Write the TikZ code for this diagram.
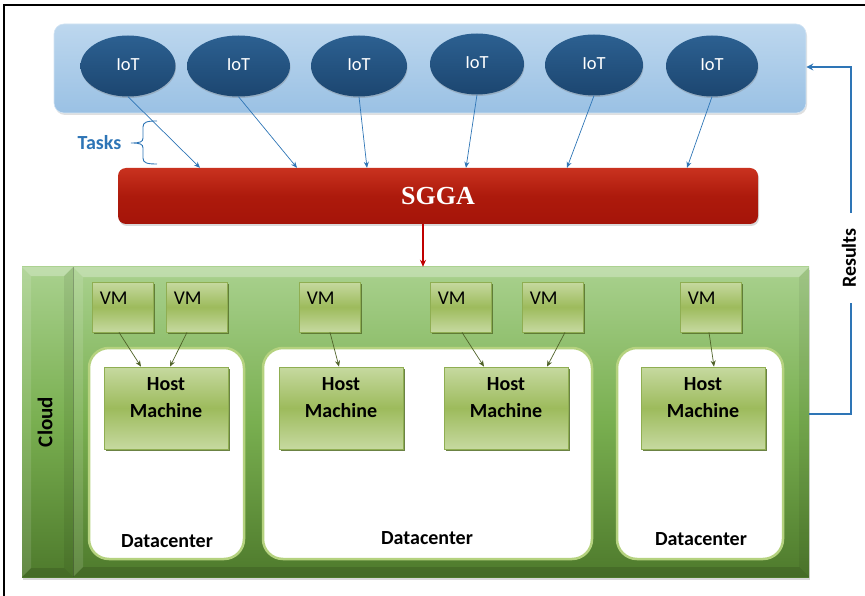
\documentclass[tikz,border=0pt]{standalone}
\usepackage{fontspec}
\setmainfont{Carlito}
\newfontfamily\serifbold{Liberation Serif}
\usetikzlibrary{shapes.geometric,shadows,arrows.meta,calc}
\definecolor{bandtop}{HTML}{BDD7EE}
\definecolor{bandbot}{HTML}{9AC1E4}
\definecolor{iottop}{HTML}{2C6091}
\definecolor{iotbot}{HTML}{1C4670}
\definecolor{sggatop}{HTML}{C9321F}
\definecolor{sggamid}{HTML}{AD1A0C}
\definecolor{sggabot}{HTML}{A51409}
\definecolor{taskblue}{HTML}{2E75B6}
\definecolor{cloudtop}{HTML}{A9D18E}
\definecolor{cloudmid}{HTML}{79AF50}
\definecolor{cloudbot}{HTML}{4E7A2C}
\definecolor{vmlight}{HTML}{C6D9A0}
\definecolor{vmmid}{HTML}{9DBB5C}
\definecolor{vmedge}{HTML}{8FAE52}
\definecolor{vmshadow}{HTML}{5B7530}
\definecolor{vmarrow}{HTML}{4F6228}
\definecolor{dcedge}{HTML}{B5D27F}
\definecolor{redarrow}{HTML}{C00000}
\tikzset{
  band/.style={rounded corners=10pt, minimum width=752pt, minimum height=89pt,
    top color=bandtop, bottom color=bandbot, draw=bandtop!70!white, line width=0.6pt,
    drop shadow={shadow xshift=1pt, shadow yshift=-2pt, opacity=0.25}},
  iot/.style={ellipse, minimum height=61pt, top color=iottop, bottom color=iotbot,
    text=white, font=\fontsize{18.5}{20}\selectfont, inner sep=0pt,
    drop shadow={shadow xshift=0.5pt, shadow yshift=-1.5pt, opacity=0.35}},
  sgga/.style={rounded corners=8pt, minimum width=640pt, minimum height=56pt,
    top color=sggatop, bottom color=sggabot, middle color=sggamid, text=white,
    font=\serifbold\bfseries\fontsize{26}{28}\selectfont,
    drop shadow={shadow xshift=1pt, shadow yshift=-2pt, opacity=0.3}},
  task/.style={draw=taskblue, line width=0.7pt, -{Stealth[length=6pt,width=5pt]}},
  vmarr/.style={draw=vmarrow, line width=0.7pt, -{Stealth[length=6pt,width=5pt]}},
  vmbox/.style={minimum width=61pt, minimum height=50pt, top color=vmlight,
    bottom color=vmlight, middle color=vmmid, draw=vmedge, line width=0.8pt,
    drop shadow={shadow xshift=2pt, shadow yshift=-2pt, opacity=0.9, fill=vmshadow}},
  hmbox/.style={vmbox, minimum width=124pt, minimum height=82pt},
  dcbox/.style={rounded corners=20pt, fill=white, draw=dcedge, line width=2.5pt, minimum height=211pt},
  lab/.style={font=\fontsize{19.5}{20}\selectfont, inner sep=0pt},
  blab/.style={font=\bfseries\fontsize{20}{27}\selectfont, inner sep=0pt, align=center},
}
\begin{document}
\begin{tikzpicture}[x=1pt,y=-1pt]
\useasboundingbox (0,0) rectangle (865,596);
\draw[line width=1.3pt] (4,597) -- (4,5) -- (866,5);

% IoT band
\node[band] (band) at (430,68.5) {};
\node[iot, minimum width=95pt]  (i1) at (128,66) {\raisebox{3pt}{IoT}};
\node[iot, minimum width=103pt] (i2) at (238.5,66) {\raisebox{3pt}{IoT}};
\node[iot, minimum width=96pt]  (i3) at (359,66) {\raisebox{3pt}{IoT}};
\node[iot, minimum width=94pt]  (i4) at (477,64) {\raisebox{3pt}{IoT}};
\node[iot, minimum width=98pt]  (i5) at (594,65) {\raisebox{3pt}{IoT}};
\node[iot, minimum width=92pt]  (i6) at (712,66) {\raisebox{3pt}{IoT}};

% SGGA
\node[sgga] (sgga) at (438,196) {SGGA};

\draw[task] (i1.south) -- (sgga.north -| 200,0);
\draw[task] (i2.south) -- (sgga.north -| 297,0);
\draw[task] (i3.south) -- (sgga.north -| 367,0);
\draw[task] (i4.south) -- (sgga.north -| 466,0);
\draw[task] (i5.south) -- (sgga.north -| 567,0);
\draw[task] (i6.south) -- (sgga.north -| 687,0);

% Tasks brace
\node[font=\bfseries\fontsize{20}{20}\selectfont, text=taskblue, inner sep=0pt] (tasks) at (99.5,143) {Tasks};
\draw[taskblue, line width=0.9pt] (157,121) .. controls (147,121) and (143,122) .. (143,127) -- (143,138)
  .. controls (143,142) and (140,143) .. (131,143)
  .. controls (140,143) and (143,144) .. (143,148) -- (143,158)
  .. controls (143,163) and (147,164) .. (157,164);

% Cloud
\node[minimum width=787pt, minimum height=310pt, inner sep=0pt,
  top color=cloudtop, bottom color=cloudbot, middle color=cloudmid,
  drop shadow={shadow xshift=1pt, shadow yshift=-3pt, opacity=0.3}] (cloud) at (415.5,422) {};
% bevel of the label strip
\fill[white, opacity=0.28] (22,267) -- (73,267) -- (64,276) -- (31,276) -- cycle;
\fill[white, opacity=0.12] (22,267) -- (31,276) -- (31,568) -- (22,577) -- cycle;
\fill[black, opacity=0.07] (73,267) -- (64,276) -- (64,568) -- (73,577) -- cycle;
\fill[black, opacity=0.12] (22,577) -- (31,568) -- (64,568) -- (73,577) -- cycle;
% bevel of the main area
\fill[white, opacity=0.28] (73,267) -- (809,267) -- (799,277) -- (83,277) -- cycle;
\fill[white, opacity=0.12] (73,267) -- (83,277) -- (83,567) -- (73,577) -- cycle;
\fill[black, opacity=0.06] (809,267) -- (799,277) -- (799,567) -- (809,577) -- cycle;
\fill[black, opacity=0.12] (73,577) -- (83,567) -- (799,567) -- (809,577) -- cycle;
\draw[black, opacity=0.25, line width=0.8pt] (73,267) -- (73,577);
\node[rotate=90, font=\bfseries\fontsize{21}{21}\selectfont, inner sep=0pt] (cloudlbl) at (45,422) {Cloud};

\draw[redarrow, line width=1.2pt, -{Stealth[length=7pt,width=6pt]}] (sgga.south -| 423,0) -- (cloud.north -| 423,0);

% Datacenters
\node[dcbox, minimum width=155pt] (d1) at (166.5,453.5) {};
\node[dcbox, minimum width=329pt] (d2) at (427.5,453.5) {};
\node[dcbox, minimum width=166pt] (d3) at (700,453.5) {};
\node[blab] (d1l) at (167,541) {Datacenter};
\node[blab] (d2l) at (427,538) {Datacenter};
\node[blab] (d3l) at (701,539) {Datacenter};

% VMs
\node[vmbox] (v1) at (122.5,307) {};
\node[vmbox] (v2) at (196.5,307) {};
\node[vmbox] (v3) at (329.5,307) {};
\node[vmbox] (v4) at (460.5,307) {};
\node[vmbox] (v5) at (552.5,307) {};
\node[vmbox] (v6) at (710.5,307) {};
\foreach \v in {v1,v2,v3,v4,v5,v6}
  \node[lab, anchor=west] (\v l) at ($(\v.north west)+(8,17)$) {VM};

% Host machines
\node[hmbox] (h1) at (166,408) {};
\node[hmbox] (h2) at (341,408) {};
\node[hmbox] (h3) at (506,408) {};
\node[hmbox] (h4) at (703,408) {};
\foreach \h in {h1,h2,h3,h4}
  \node[blab] (\h l) at ($(\h.north)+(0,30.5)$) {Host\\Machine};

\draw[vmarr] (v1.south -| 119,0) -- (h1.north -| 141,0);
\draw[vmarr] (v2.south -| 187,0) -- (h1.north -| 170,0);
\draw[vmarr] (v3.south -| 330,0) -- (h2.north -| 339,0);
\draw[vmarr] (v4.south -| 462,0) -- (h3.north -| 484,0);
\draw[vmarr] (v5.south -| 565,0) -- (h3.north -| 547,0);
\draw[vmarr] (v6.south -| 709,0) -- (h4.north -| 714,0);

% Results
\coordinate (rc) at (851,414);
\coordinate (rt) at (851,67);
\draw[taskblue, line width=1.6pt, -{Stealth[length=7pt,width=7pt]}] (cloud.east |- rc) -- (rc) -- (rt) -- (band.east |- rt);
\node[rotate=90, fill=white, inner xsep=15pt, inner ysep=2pt, font=\bfseries\fontsize{20}{20}\selectfont] (res) at (849,258) {Results};
\end{tikzpicture}
\end{document}
